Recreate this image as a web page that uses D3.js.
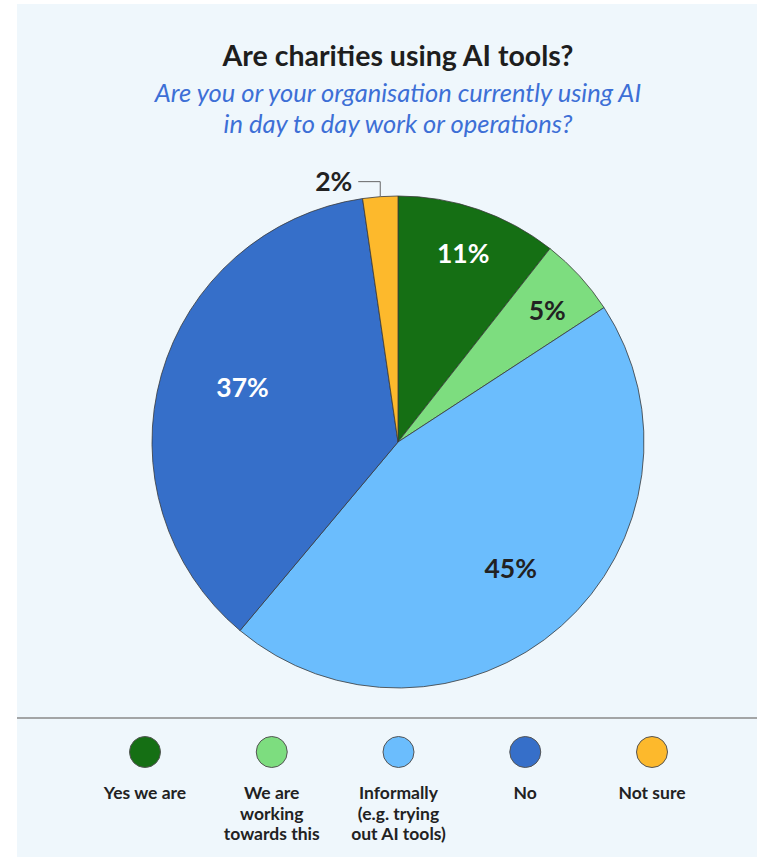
<!DOCTYPE html>
<html><head><meta charset="utf-8">
<script src="https://cdn.jsdelivr.net/npm/d3@7"></script>
<style>html,body{margin:0;padding:0;background:#fff;}svg{display:block;}</style>
</head><body>
<svg id="chart" width="757" height="857"></svg>
<script>
const categories = ["Yes we are", "We are working towards this", "Informally (e.g. trying out AI tools)", "No", "Not sure"];
const values = [10.6, 5.2, 45.3, 36.6, 2.3];
const labels = ["11%", "5%", "45%", "37%", "2%"];
const legendLines = [["Yes we are"], ["We are", "working", "towards this"], ["Informally", "(e.g. trying", "out AI tools)"], ["No"], ["Not sure"]];
const colors = ["#156f14", "#7ddd7f", "#6bbdfd", "#366fc9", "#fdb92c"];
const labelColors = ["#ffffff", "#222222", "#222222", "#ffffff", "#222222"];

const svg = d3.select("#chart");
const font = "Lato, 'Source Sans Pro', 'Noto Sans', sans-serif";

svg.append("rect").attr("x", 17).attr("y", 4).attr("width", 740).attr("height", 853).attr("fill", "#eff7fc");

const cx = 398;
svg.append("text").attr("x", cx).attr("y", 66).attr("text-anchor", "middle")
  .attr("font-family", font).attr("font-weight", 700).attr("font-size", 28.5).attr("fill", "#1e1e1e")
  .text("Are charities using AI tools?");
["Are you or your organisation currently using AI", "in day to day work or operations?"].forEach((t, i) => {
  svg.append("text").attr("x", cx).attr("y", 102 + i * 31).attr("text-anchor", "middle")
    .attr("font-family", font).attr("font-style", "italic").attr("font-size", 25.5).attr("fill", "#3d6fd6")
    .text(t);
});

const data = categories.map((c, i) => ({ c, v: values[i], i }));
const pie = d3.pie().value(d => d.v).sort(null);
const R = 246;
const arc = d3.arc().innerRadius(0).outerRadius(R);
const arcs = pie(data);
const g = svg.append("g").attr("transform", `translate(${cx},442)`);
g.selectAll("path").data(arcs).join("path")
  .attr("d", arc).attr("fill", d => colors[d.data.i])
  .attr("stroke", "#3a3a3a").attr("stroke-width", 0.8);

const labelR = [0.81, 0.81, 0.69, 0.67, null];
const labelDA = [0, 1, 0, 3.6, 0];
arcs.forEach((a, k) => {
  if (labelR[k] === null) return;
  const mid = (a.startAngle + a.endAngle) / 2 + labelDA[k] * Math.PI / 180;
  const r = R * labelR[k];
  const x = Math.sin(mid) * r, y = -Math.cos(mid) * r;
  g.append("text").attr("x", x).attr("y", y + 9.5).attr("text-anchor", "middle")
    .attr("font-family", font).attr("font-weight", 700).attr("font-size", 26.5)
    .attr("fill", labelColors[k]).text(labels[k]);
});
{
  const a = arcs[4];
  const mid = (a.startAngle + a.endAngle) / 2;
  const px = Math.sin(mid) * R, py = -Math.cos(mid) * R;
  const ly = py - 15;
  g.append("path").attr("d", `M${px},${py}L${px},${ly}L${px - 22},${ly}`)
    .attr("fill", "none").attr("stroke", "#666").attr("stroke-width", 1);
  g.append("text").attr("x", px - 28).attr("y", ly + 9.5).attr("text-anchor", "end")
    .attr("font-family", font).attr("font-weight", 700).attr("font-size", 26.5)
    .attr("fill", labelColors[4]).text(labels[4]);
}

svg.append("line").attr("x1", 17).attr("x2", 757).attr("y1", 718).attr("y2", 718)
  .attr("stroke", "#8a8a8a").attr("stroke-width", 1.5);

const lx = d3.scalePoint().domain(categories).range([145, 652]);
const lg = svg.append("g");
data.forEach(d => {
  const x = lx(d.c);
  lg.append("circle").attr("cx", x).attr("cy", 752).attr("r", 15.5)
    .attr("fill", colors[d.i]).attr("stroke", "#555").attr("stroke-width", 1);
  legendLines[d.i].forEach((t, j) => {
    lg.append("text").attr("x", x).attr("y", 799 + j * 20.5).attr("text-anchor", "middle")
      .attr("font-family", font).attr("font-weight", 700).attr("font-size", 17.5).attr("fill", "#222")
      .text(t);
  });
});
</script>
</body></html>
